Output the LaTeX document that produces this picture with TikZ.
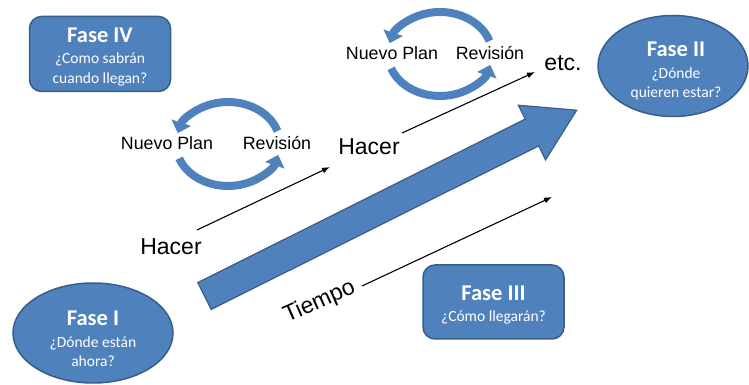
\documentclass[tikz,border=0pt]{standalone}
\usepackage{fontspec}
\setmainfont{Liberation Sans}
\newfontfamily\calibri{Carlito}
\usetikzlibrary{arrows.meta,shapes.geometric}
\definecolor{faseblue}{RGB}{79,129,189}
\definecolor{faseline}{RGB}{56,93,138}
\newcommand{\fasetitle}[1]{{\fontsize{22.5}{25}\selectfont\bfseries #1}}

\begin{document}
\begin{tikzpicture}[x=1pt,y=1pt]
    \tikzstyle{every node}=[inner sep=0pt, font=\fontsize{17.8}{20}\selectfont]
    \tikzstyle{fase}=[fill=faseblue, draw=faseline, line width=1.5pt]
    \tikzstyle{fasetext}=[text=white, align=center, font=\calibri\fontsize{15.5}{19.5}\selectfont]
    \tikzstyle{fasebox}=[fase, rounded corners=12pt, minimum width=141pt, minimum height=75pt]
    \tikzstyle{faseoval}=[fase, ellipse, minimum width=160pt, minimum height=100pt]
    \tikzstyle{big}=[font=\fontsize{23}{26}\selectfont]
    \tikzstyle{thin}=[line width=1.1pt, -{Latex[length=8pt,width=6pt]}]
    \tikzstyle{loop}=[faseblue, line width=8pt, -{Triangle[length=11pt,width=20pt]}]
    \useasboundingbox (0,0) rectangle (749,385);
    % fases
    \node[fasebox] (f4) at (100,331) {};
    \node[fasetext] (f4t) at ([yshift=-3pt]f4.center) {\fasetitle{Fase IV}\\[2pt]¿Como sabrán\\cuando llegan?};
    \node[faseoval, minimum width=150pt, minimum height=101pt] (f2) at (673,319) {};
    \node[fasetext] (f2t) at ([xshift=3pt,yshift=-5pt]f2.center) {\fasetitle{Fase II}\\[2pt]¿Dónde\\quieren estar?};
    \node[faseoval] (f1) at (93,52) {};
    \node[fasetext] (f1t) at ([yshift=-6pt]f1.center) {\fasetitle{Fase I}\\[2pt]¿Dónde están\\ahora?};
    \node[fasebox, minimum height=74pt] (f3) at (493.5,83) {};
    \node[fasetext] (f3t) at ([yshift=-3pt]f3.center) {\fasetitle{Fase III}\\[2pt]¿Cómo llegarán?};
    % big arrow
    \fill[faseblue, draw=faseline, line width=1.2pt, shift={(204.5,89)}, rotate=26.53] (0,-15) -- (366,-15) -- (366,-30.5) -- (416,0) -- (366,30.5) -- (366,15) -- (0,15) -- cycle;
    % labels
    \node[big] (hacer1) at (171,138) {Hacer};
    \node[big] (hacer2) at (369,238) {Hacer};
    \node[big] (etc) at (563,322) {etc.};
    \node[big, rotate=24] (tiempo) at (319.5,83) {Tiempo};
    \node (plan1) at (167,242) {Nuevo Plan};
    \node (rev1) at (277,242) {Revisión};
    \node (plan2) at (392,332) {Nuevo Plan};
    \node (rev2) at (490,332) {Revisión};
    % thin arrows
    \coordinate (h1s) at (197,155);
    \coordinate (h1e) at (330,218);
    \coordinate (h2s) at (402,252);
    \coordinate (h2e) at (535,313);
    \coordinate (ts) at (362,99);
    \coordinate (te) at (552,188);
    \draw[thin] (h1s) -- (h1e);
    \draw[thin] (h2s) -- (h2e);
    \draw[thin] (ts) -- (te);
    % loops
    \foreach \cx/\cy in {228/241, 440/331}{
        \draw[loop] (\cx,\cy) ++(18:52 and 42) arc[start angle=18, end angle=165, x radius=52, y radius=42];
        \draw[loop] (\cx,\cy) ++(200:52 and 42) arc[start angle=200, end angle=345, x radius=52, y radius=42];
    }
\end{tikzpicture}
\end{document}
